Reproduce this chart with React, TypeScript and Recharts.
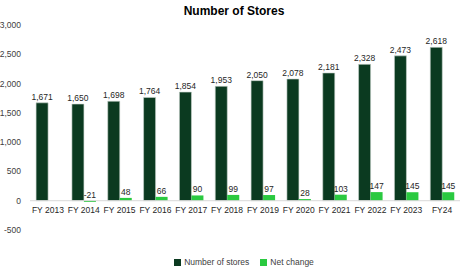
import { BarChart, Bar, XAxis, YAxis, Legend, ReferenceLine, LabelList } from "recharts"

const years = ["FY 2013", "FY 2014", "FY 2015", "FY 2016", "FY 2017", "FY 2018", "FY 2019", "FY 2020", "FY 2021", "FY 2022", "FY 2023", "FY24"]
const stores = [1671, 1650, 1698, 1764, 1854, 1953, 2050, 2078, 2181, 2328, 2473, 2618]
const netChange = [null, -21, 48, 66, 90, 99, 97, 28, 103, 147, 145, 145]
const yTicks = [-500, 0, 500, 1000, 1500, 2000, 2500, 3000]

const data = years.map((name, i) => ({ name, stores: stores[i], net: netChange[i] }))

const FONT = "'Liberation Sans', Arial, sans-serif"
const DARK = "#0b3a20"
const GREEN = "#2ac940"

const fmt = (v: number) => v.toLocaleString("en-US")

// label sits above the bar, or above the zero line for negatives
const ValueLabel = (props: any) => {
  const { x, y, width, height, value } = props
  if (value == null) return null
  const top = Math.min(y, y + height)
  return (
    <text x={x + width / 2} y={top - 3} textAnchor="middle" fontSize={8.5} fill="#262626" fontFamily={FONT}>
      {fmt(value)}
    </text>
  )
}

// x labels drawn just under the zero line rather than the plot bottom
const XTick = (props: any) => {
  const { x, y, payload } = props
  return (
    <text x={x} y={y - 25} textAnchor="middle" fontSize={8.5} fill="#262626" fontFamily={FONT}>
      {payload.value}
    </text>
  )
}

const legendOrder = ["Number of stores", "Net change"]

const LegendBox = (props: any) => {
  const items = [...(props.payload || [])].sort((a: any, b: any) => legendOrder.indexOf(a.value) - legendOrder.indexOf(b.value))
  return (
    <div style={{ display: "flex", justifyContent: "center", gap: 11, paddingLeft: 28, fontSize: 8.5, fontFamily: FONT, color: "#404040" }}>
      {items.map((it: any) => (
        <div key={it.value} style={{ display: "flex", alignItems: "center", gap: 3 }}>
          <span style={{ display: "inline-block", width: 7, height: 7, background: it.color }} />
          <span>{it.value}</span>
        </div>
      ))}
    </div>
  )
}

export default function App() {
  return (
    <div style={{ position: "absolute", left: 0, top: 0, background: "#fff" }}>
      <div style={{ position: "absolute", left: 0, top: 4, width: 468, textAlign: "center", fontFamily: FONT, fontWeight: "bold", fontSize: 12, color: "#000" }}>
        Number of Stores
      </div>
      <BarChart width={468} height={277} data={data} margin={{ top: 25, right: 8, left: 0, bottom: 10 }} barGap={0} barCategoryGap="17%">
        <XAxis dataKey="name" axisLine={false} tickLine={false} tick={<XTick />} interval={0} height={27} />
        <YAxis
          domain={[-500, 3000]}
          ticks={yTicks}
          axisLine={false}
          tickLine={false}
          tickSize={0}
          tickMargin={9}
          width={30}
          tickFormatter={fmt}
          tick={{ fontSize: 8.5, fill: "#404040", fontFamily: FONT }}
        />
        <ReferenceLine y={0} stroke="#d9d9d9" />
        <Legend verticalAlign="bottom" content={<LegendBox />} />
        <Bar dataKey="stores" name="Number of stores" fill={DARK} stroke="#c8d3cc" strokeWidth={0.6} isAnimationActive={false}>
          <LabelList dataKey="stores" content={<ValueLabel />} />
        </Bar>
        <Bar dataKey="net" name="Net change" fill={GREEN} isAnimationActive={false}>
          <LabelList dataKey="net" content={<ValueLabel />} />
        </Bar>
      </BarChart>
    </div>
  )
}
